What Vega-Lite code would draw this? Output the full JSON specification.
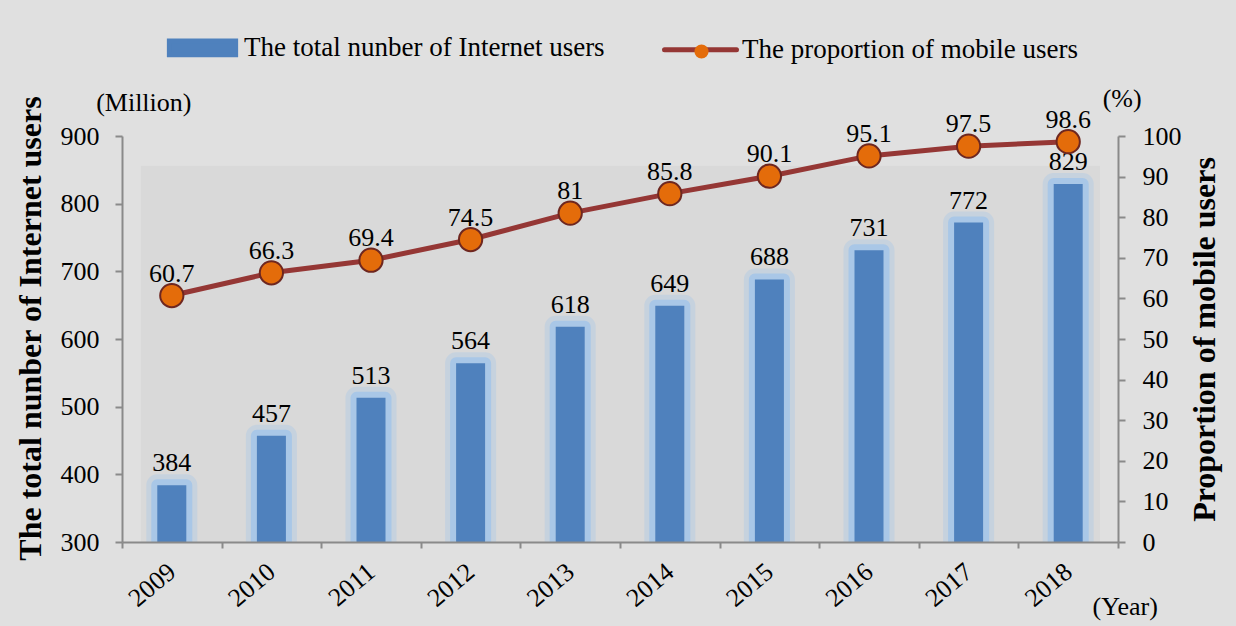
{
  "$schema": "https://vega.github.io/schema/vega-lite/v6.json",
  "width": 996,
  "height": 406,
  "autosize": "none",
  "padding": {"left": 122, "top": 136, "right": 118, "bottom": 84},
  "background": "#e0e0e0",
  "config": {
    "font": "Liberation Serif",
    "view": {"stroke": null},
    "axis": {
      "grid": false,
      "domainColor": "#8a8a8a",
      "tickColor": "#8a8a8a",
      "domainWidth": 2,
      "tickWidth": 2,
      "tickSize": 7,
      "labelFont": "Liberation Serif",
      "titleFont": "Liberation Serif",
      "labelColor": "#000000",
      "titleColor": "#000000",
      "labelFontSize": 26,
      "titleFontSize": 32,
      "titleFontWeight": "bold",
      "labelPadding": 16
    },
    "legend": {
      "labelFont": "Liberation Serif",
      "labelFontSize": 27,
      "labelColor": "#000000",
      "labelLimit": 0,
      "padding": 0,
      "title": null
    },
    "text": {"font": "Liberation Serif", "fontSize": 26, "color": "#000000"}
  },
  "data": {
    "values": [
      {"year": "2009", "users": 384, "prop": 60.7},
      {"year": "2010", "users": 457, "prop": 66.3},
      {"year": "2011", "users": 513, "prop": 69.4},
      {"year": "2012", "users": 564, "prop": 74.5},
      {"year": "2013", "users": 618, "prop": 81},
      {"year": "2014", "users": 649, "prop": 85.8},
      {"year": "2015", "users": 688, "prop": 90.1},
      {"year": "2016", "users": 731, "prop": 95.1},
      {"year": "2017", "users": 772, "prop": 97.5},
      {"year": "2018", "users": 829, "prop": 98.6}
    ]
  },
  "layer": [
    {
      "layer": [
        {
          "data": {"values": [{"from": 300, "to": 856, "first": "2009", "last": "2018"}]},
          "mark": {"type": "rect", "fill": "#d9d9d9"},
          "encoding": {
            "x": {"field": "first", "type": "ordinal", "bandPosition": 0.19},
            "x2": {"field": "last", "bandPosition": 0.82},
            "y": {"field": "from", "type": "quantitative", "scale": {"domain": [300, 900], "nice": false, "zero": false}},
            "y2": {"field": "to"}
          }
        },
        {
          "mark": {"type": "bar", "width": 29, "clip": true, "fill": "#9dc3ec", "stroke": "#9dc3ec", "strokeWidth": 22, "strokeJoin": "round", "opacity": 0.3},
          "encoding": {
            "x": {"field": "year", "type": "ordinal"},
            "y": {"field": "users", "type": "quantitative"},
            "y2": {"datum": 300}
          }
        },
        {
          "mark": {"type": "bar", "width": 29, "clip": true, "fill": "#9dc3ec", "stroke": "#9dc3ec", "strokeWidth": 12, "strokeJoin": "round", "opacity": 0.7},
          "encoding": {
            "x": {"field": "year", "type": "ordinal"},
            "y": {"field": "users", "type": "quantitative"},
            "y2": {"datum": 300}
          }
        },
        {
          "mark": {"type": "bar", "width": 29, "clip": true},
          "encoding": {
            "x": {"field": "year", "type": "ordinal",
              "scale": {"paddingInner": 0, "paddingOuter": 0},
              "axis": {"title": null, "labelAngle": -40, "labelAlign": "right", "labelBaseline": "middle", "labelFontSize": 26, "labelPadding": 20, "tickBand": "extent", "tickSize": 6}
            },
            "y": {"field": "users", "type": "quantitative",
              "scale": {"domain": [300, 900], "nice": false, "zero": false},
              "axis": {"title": "The total nunber of Internet users", "values": [300, 400, 500, 600, 700, 800, 900], "titlePadding": 13, "titleY": 192}
            },
            "y2": {"datum": 300},
            "color": {
              "datum": "The total nunber of Internet users",
              "scale": {"domain": ["The total nunber of Internet users", "The proportion of mobile users"], "range": ["#4f81bd", "#953735"]},
              "legend": {
                "orient": "none",
                "direction": "horizontal",
                "legendX": 42,
                "legendY": -127,
                "symbolSize": 5184,
                "labelOffset": 3,
                "columnPadding": 49,
                "encode": {
                  "symbols": {
                    "update": {
                      "shape": {"signal": "datum.value === 'The total nunber of Internet users' ? 'M-0.92,-0.19H0.92V0.19H-0.92Z' : 'M-1,0H1'"},
                      "fill": {"signal": "datum.value === 'The total nunber of Internet users' ? '#4f81bd' : 'transparent'"},
                      "stroke": {"signal": "datum.value === 'The total nunber of Internet users' ? 'transparent' : '#953735'"},
                      "strokeWidth": {"value": 5},
                      "strokeCap": {"value": "round"},
                      "opacity": {"value": 1},
                      "fillOpacity": {"value": 1}
                    }
                  }
                }
              }
            }
          }
        },
        {
          "mark": {"type": "text", "dy": -14, "baseline": "alphabetic"},
          "encoding": {
            "x": {"field": "year", "type": "ordinal"},
            "y": {"field": "users", "type": "quantitative"},
            "text": {"field": "users", "type": "quantitative"}
          }
        },
        {
          "data": {"values": [{"label": "(Million)", "yr": "2009", "v": 900}]},
          "mark": {"type": "text", "dx": -28, "dy": -33, "baseline": "middle", "align": "center"},
          "encoding": {
            "x": {"field": "yr", "type": "ordinal"},
            "y": {"field": "v", "type": "quantitative"},
            "text": {"field": "label"}
          }
        },
        {
          "data": {"values": [{"label": "(Year)", "yr": "2018", "v": 300}]},
          "mark": {"type": "text", "dx": 57, "dy": 65, "baseline": "middle", "align": "center"},
          "encoding": {
            "x": {"field": "yr", "type": "ordinal"},
            "y": {"field": "v", "type": "quantitative"},
            "text": {"field": "label"}
          }
        }
      ]
    },
    {
      "layer": [
        {
          "mark": {"type": "line", "strokeWidth": 5},
          "encoding": {
            "x": {"field": "year", "type": "ordinal"},
            "y": {"field": "prop", "type": "quantitative",
              "scale": {"domain": [0, 100], "nice": false},
              "axis": {"orient": "right", "title": "Proportion  of mobile users", "titleAngle": -90, "values": [0, 10, 20, 30, 40, 50, 60, 70, 80, 90, 100], "titlePadding": 40, "labelPadding": 17}
            },
            "color": {"datum": "The proportion of mobile users"}
          }
        },
        {
          "mark": {"type": "point", "filled": true, "size": 540, "fill": "#e46c0a", "stroke": "#6e2720", "strokeWidth": 2, "opacity": 1},
          "encoding": {
            "x": {"field": "year", "type": "ordinal"},
            "y": {"field": "prop", "type": "quantitative"},
            "shape": {
              "datum": "marker",
              "scale": {"domain": ["marker"], "range": ["circle"]},
              "legend": {
                "orient": "none",
                "legendX": 566,
                "legendY": -98,
                "symbolSize": 200,
                "symbolFillColor": "#e46c0a",
                "symbolStrokeColor": "#6e2720",
                "symbolStrokeWidth": 2,
                "symbolOpacity": 1,
                "labelExpr": "''",
                "labelOffset": 0,
                "encode": {
                  "symbols": {
                    "update": {
                      "fill": {"value": "#e46c0a"},
                      "stroke": {"value": "#6e2720"},
                      "strokeWidth": {"value": 2},
                      "opacity": {"value": 1}
                    }
                  }
                }
              }
            }
          }
        },
        {
          "mark": {"type": "text", "dy": -14, "baseline": "alphabetic"},
          "encoding": {
            "x": {"field": "year", "type": "ordinal"},
            "y": {"field": "prop", "type": "quantitative"},
            "text": {"field": "prop", "type": "nominal"}
          }
        },
        {
          "data": {"values": [{"label": "(%)", "yr": "2018", "v": 100}]},
          "mark": {"type": "text", "dx": 54, "dy": -37, "baseline": "middle", "align": "center"},
          "encoding": {
            "x": {"field": "yr", "type": "ordinal"},
            "y": {"field": "v", "type": "quantitative"},
            "text": {"field": "label"}
          }
        }
      ]
    }
  ],
  "resolve": {"scale": {"y": "independent"}}
}
